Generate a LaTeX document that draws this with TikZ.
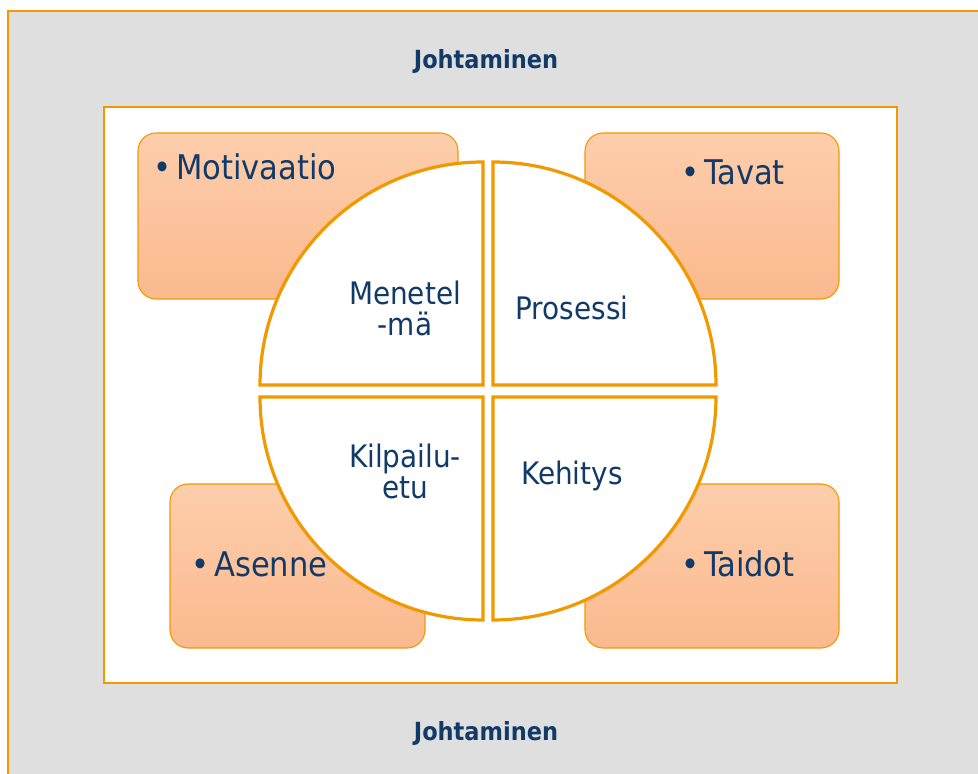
\documentclass[tikz,border=0pt]{standalone}
\usepackage{fontspec}
\setmainfont{DejaVu Sans Condensed}
\usetikzlibrary{positioning}
\definecolor{Navy}{RGB}{18,58,104}
\definecolor{Amber}{RGB}{242,153,0}
\definecolor{Mist}{RGB}{223,223,223}
\definecolor{PeachTop}{RGB}{253,206,172}
\definecolor{PeachBot}{RGB}{251,185,142}

\begin{document}
\begin{tikzpicture}[x=1pt,y=1pt,
  card/.style={rounded corners=18pt,draw=Amber,line width=1.1pt,top color=PeachTop,bottom color=PeachBot},
  slice/.style={draw=Amber,fill=white,line width=3.2pt,line join=miter},
  item/.style={anchor=base west,text=Navy,inner sep=0pt,font=\fontsize{34}{40}\selectfont},
  part/.style={text=Navy,align=center,inner sep=0pt,font=\fontsize{31}{31}\selectfont},
  head/.style={text=Navy,inner sep=0pt,font=\fontsize{25}{30}\selectfont\bfseries}]
\useasboundingbox (0,0) rectangle (978,774);
% frame and inner sheet
\filldraw[draw=Amber,fill=Mist,line width=1.1pt] (8,763) rectangle (990,-10);
\filldraw[draw=Amber,fill=white,line width=1.1pt] (104,667) rectangle (897,91);
\node[head] (lead1) at (486,712) {Johtaminen};
\node[head] (lead2) at (486,40) {Johtaminen};
% corner cards
\draw[card] (138,475) rectangle (458,641);
\draw[card] (585,475) rectangle (839,641);
\draw[card] (170,126) rectangle (425,290);
\draw[card] (585,126) rectangle (839,290);
\node[item] (motiv) at (153,594) {•\kern5pt Motivaatio};
\node[item] (tavat) at (681,589) {•\kern5pt Tavat};
\node[item] (asenne) at (191,197) {•\kern5pt Asenne};
\node[item] (taidot) at (681,197) {•\kern5pt Taidot};
% four quarters of the wheel
\draw[slice] (483,389) -- (260,389) arc[start angle=180,end angle=90,radius=223] -- cycle;
\draw[slice] (493,389) -- (493,612) arc[start angle=90,end angle=0,radius=223] -- cycle;
\draw[slice] (483,377) -- (260,377) arc[start angle=180,end angle=270,radius=223] -- cycle;
\draw[slice] (493,377) -- (716,377) arc[start angle=0,end angle=-90,radius=223] -- cycle;
\node[part] (method) at (405,466) {Menetel\\-mä};
\node[part] (process) at (572,466) {Prosessi};
\node[part] (edge) at (405,303) {Kilpailu-\\etu};
\node[part] (growth) at (572,298) {Kehitys};
\end{tikzpicture}
\end{document}
